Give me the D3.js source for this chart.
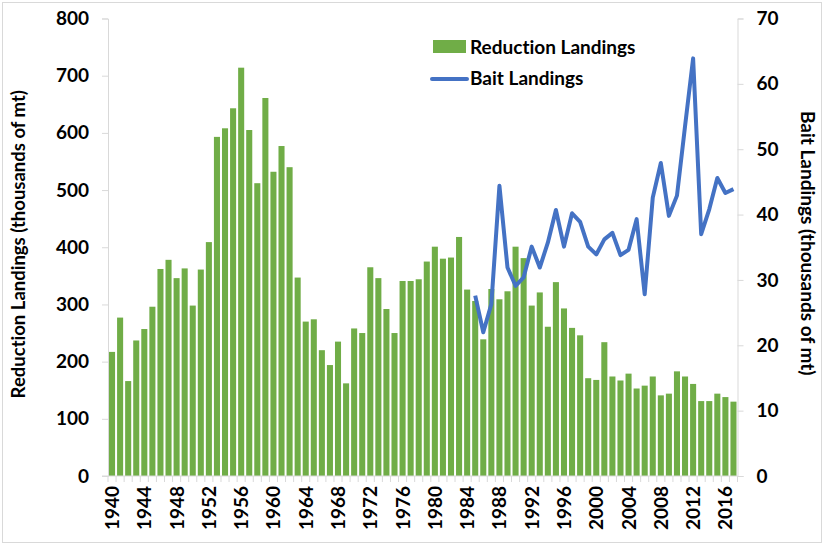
<!DOCTYPE html>
<html><head><meta charset="utf-8">
<script src="https://cdn.jsdelivr.net/npm/d3@7"></script>
<style>
html,body{margin:0;padding:0;background:#fff;}
svg{display:block;font-family:Lato,"Open Sans",sans-serif;font-weight:bold;font-variant-ligatures:none;font-feature-settings:"liga" 0,"clig" 0;}
svg text{font-variant-ligatures:none;font-feature-settings:"liga" 0,"clig" 0;}
</style></head>
<body>
<svg id="chart" width="824" height="545"></svg>
<script>
const years = d3.range(1940, 2018);
const reduction = [217,277,166,237,257,296,362,378,346,363,298,361,409,593,608,643,714,605,512,661,532,577,540,347,270,274,220,194,235,162,258,250,365,346,292,250,341,341,344,375,401,380,382,418,326,306,239,327,309,323,401,381,298,321,261,339,293,259,246,171,168,234,174,167,179,153,158,174,141,144,183,174,161,131,131,144,138,130];
const baitYears = d3.range(1985, 2018);
const bait = [27.6,22.0,26.3,44.4,31.9,29.1,30.4,35.1,31.9,35.7,40.7,35.1,40.2,38.9,35.1,33.9,36.2,37.2,33.8,34.6,39.3,27.8,42.6,47.9,39.8,42.9,53.5,63.9,37.0,40.8,45.6,43.3,43.9];
const leftTicks = [0,100,200,300,400,500,600,700,800];
const rightTicks = [0,10,20,30,40,50,60,70];
const yearLabels = d3.range(1940, 2017, 4);

const svg = d3.select("#chart");
const W = 824, H = 545;
const m = {left:108, right:W-737.5, top:18.5, bottom:H-476};
const FS = 19;

svg.append("rect").attr("x",2.5).attr("y",2.5).attr("width",W-5).attr("height",H-5)
  .attr("fill","#fff").attr("stroke","#d9d9d9");

const x = d3.scaleBand().domain(years).range([m.left, W-m.right]).paddingInner(0.25).paddingOuter(0.125);
const yL = d3.scaleLinear().domain([0,800]).range([H-m.bottom, m.top]);
const yR = d3.scaleLinear().domain([0,70]).range([H-m.bottom, m.top]);

// bars
svg.append("g").selectAll("rect").data(years).join("rect")
  .attr("x", d=>x(d)).attr("width", x.bandwidth())
  .attr("y", (d,i)=>yL(reduction[i])).attr("height",(d,i)=>yL(0)-yL(reduction[i]))
  .attr("fill","#70AD47");

// line
const line = d3.line().x((d,i)=>x(baitYears[i])+x.bandwidth()/2).y(d=>yR(d));
svg.append("path").datum(bait).attr("d", line).attr("fill","none")
  .attr("stroke","#4472C4").attr("stroke-width",4).attr("stroke-linejoin","round");

// axes
const gray = "#d9d9d9";
const axL = svg.append("g").attr("transform",`translate(${m.left},0)`)
  .call(d3.axisLeft(yL).tickValues(leftTicks).tickSize(6).tickPadding(13));
const axR = svg.append("g").attr("transform",`translate(${W-m.right},0)`)
  .call(d3.axisRight(yR).tickValues(rightTicks).tickSize(6).tickPadding(13));
[axL,axR].forEach(g=>{
  g.selectAll("path,line").attr("stroke",gray);
  g.selectAll("text").attr("font-size",FS).attr("font-family","Lato").attr("font-weight","bold").attr("fill","#000");
});

// x axis baseline and ticks
const xb = svg.append("g");
xb.append("line").attr("x1",m.left-6).attr("x2",W-m.right).attr("y1",yL(0)).attr("y2",yL(0)).attr("stroke",gray);
const step = x.step();
xb.selectAll("line.t").data(years.concat([2018])).join("line").attr("class","t")
  .attr("x1",d=>m.left+(d-1940)*step).attr("x2",d=>m.left+(d-1940)*step)
  .attr("y1",yL(0)).attr("y2",yL(0)+6).attr("stroke",gray);
xb.selectAll("text").data(yearLabels).join("text")
  .attr("transform",d=>`translate(${x(d)+x.bandwidth()/2+7},${yL(0)+10}) rotate(-90)`)
  .attr("text-anchor","end").attr("font-size",FS).text(d=>d);

// axis titles
svg.append("text").attr("transform",`translate(25,${(yL(0)+yL(800))/2+(-3)}) rotate(-90)`)
  .attr("text-anchor","middle").attr("font-size",18.5).text("Reduction Landings (thousands of mt)");
svg.append("text").attr("transform",`translate(801,${(yL(0)+yL(800))/2-4}) rotate(90)`)
  .attr("text-anchor","middle").attr("font-size",19).text("Bait Landings (thousands of mt)");

// legend
const lg = svg.append("g");
lg.append("rect").attr("x",433).attr("y",40).attr("width",33).attr("height",13).attr("fill","#70AD47");
lg.append("text").attr("x",470).attr("y",54).attr("font-size",FS).text("Reduction Landings");
lg.append("line").attr("x1",432).attr("x2",467).attr("y1",79).attr("y2",79).attr("stroke","#4472C4").attr("stroke-width",4).attr("stroke-linecap","round");
lg.append("text").attr("x",470).attr("y",85).attr("font-size",FS).text("Bait Landings");
</script>
</body></html>
